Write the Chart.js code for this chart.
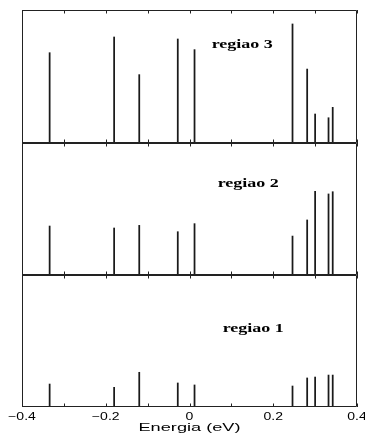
<!DOCTYPE html>
<html>
<head>
<meta charset="utf-8">
<script src="https://cdn.jsdelivr.net/npm/chart.js@4/dist/chart.umd.min.js"></script>
<style>
  html, body { margin: 0; padding: 0; background: #fff; }
  #wrap { position: relative; width: 365px; height: 434px; }
  canvas { position: absolute; left: 0; }
</style>
</head>
<body>
<div id="wrap">
  <canvas id="p3" width="365" height="143" style="top:0px"></canvas>
  <canvas id="p2" width="365" height="132" style="top:143px"></canvas>
  <canvas id="p1" width="365" height="159" style="top:275px"></canvas>
</div>
<script>
// Transition energies (eV), shared by the three regions
const energies = [-0.334, -0.180, -0.120, -0.028, 0.012, 0.246, 0.281, 0.300, 0.332, 0.342];

// Relative intensities per region
const regiao3 = [0.679, 0.797, 0.514, 0.782, 0.702, 0.895, 0.556, 0.218, 0.190, 0.268];
const regiao2 = [0.371, 0.356, 0.376, 0.328, 0.389, 0.295, 0.417, 0.634, 0.614, 0.631];
const regiao1 = [0.174, 0.149, 0.263, 0.182, 0.167, 0.159, 0.220, 0.227, 0.242, 0.242];

const panelNames = ['regiao 1', 'regiao 2', 'regiao 3'];

// Axis ticks
const tickMarks = [-0.4, -0.3, -0.2, -0.1, 0, 0.1, 0.2, 0.3, 0.4];
const tickLabelValues = [-0.4, -0.2, 0, 0.2, 0.4];
const tickLabels = ['\u22120.4', '\u22120.2', '0', '0.2', '0.4'];
const axisTitle = 'Energia (eV)';

// Horizontally widened text
function wideText(ctx, text, x, y, sx, align) {
  ctx.save();
  ctx.translate(x, y);
  ctx.scale(sx, 1);
  ctx.textAlign = align;
  ctx.textBaseline = 'alphabetic';
  ctx.fillText(text, 0, 0);
  ctx.restore();
}

// Frame, inward ticks, panel label and (bottom panel) axis labels
const panelFrame = {
  id: 'panelFrame',
  afterDraw(chart, args, opts) {
    const ctx = chart.ctx;
    const a = chart.chartArea;
    const xs = chart.scales.x;
    ctx.save();
    ctx.strokeStyle = '#222';
    ctx.lineWidth = 1;
    ctx.beginPath();
    ctx.rect(a.left + 0.5, a.top + 0.5, a.right - a.left - 1, a.bottom - a.top - 1);
    ctx.stroke();
    ctx.beginPath();
    tickMarks.forEach(v => {
      const px = Math.round(xs.getPixelForValue(v)) + 0.5;
      ctx.moveTo(px, a.top);
      ctx.lineTo(px, a.top + 3.5);
      ctx.moveTo(px, a.bottom);
      ctx.lineTo(px, a.bottom - 3.5);
    });
    ctx.stroke();

    ctx.fillStyle = '#000';
    ctx.font = 'bold 12px "Liberation Serif", "Times New Roman", serif';
    wideText(ctx, opts.label, a.left + opts.dx, a.top + opts.dy, 1.5, 'left');

    if (opts.axis) {
      ctx.font = '10px "Liberation Sans", Arial, sans-serif';
      tickLabelValues.forEach((v, i) => {
        wideText(ctx, tickLabels[i], xs.getPixelForValue(v), a.bottom + 13, 1.4, 'center');
      });
      ctx.font = '11.5px "Liberation Sans", Arial, sans-serif';
      wideText(ctx, axisTitle, (a.left + a.right) / 2, a.bottom + 24, 1.58, 'center');
    }
    ctx.restore();
  }
};

function makePanel(id, values, label, pad, labelPos, axis) {
  return new Chart(document.getElementById(id), {
    type: 'bar',
    data: {
      datasets: [{
        data: energies.map((e, i) => ({ x: e, y: values[i] })),
        backgroundColor: '#1a1a1a',
        borderWidth: 0,
        barThickness: 1.1,
        grouped: false
      }]
    },
    options: {
      responsive: false,
      animation: false,
      layout: { padding: { left: 22, right: 8, top: pad[0], bottom: pad[1] } },
      plugins: {
        legend: { display: false },
        tooltip: { enabled: false },
        panelFrame: { label: label, dx: labelPos[0], dy: labelPos[1], axis: axis }
      },
      scales: {
        x: { type: 'linear', min: -0.4, max: 0.4, offset: false, display: false },
        y: { type: 'linear', min: 0, max: 1, display: false }
      }
    },
    plugins: [panelFrame]
  });
}

makePanel('p3', regiao3, panelNames[2], [10, 0], [189.7, 37.5], false);
makePanel('p2', regiao2, panelNames[1], [0, 0], [195.7, 44.3], false);
makePanel('p1', regiao1, panelNames[0], [0, 27], [200.7, 56.7], true);
</script>
</body>
</html>
